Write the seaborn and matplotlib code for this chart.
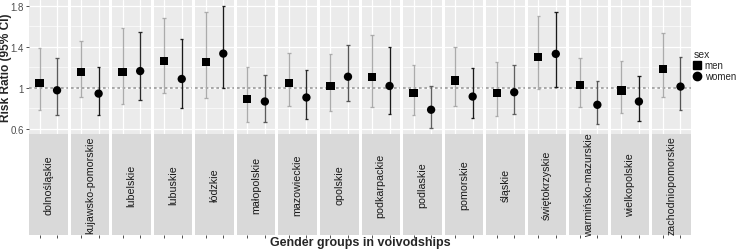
"""
Faceted risk ratios (95% CI) by sex for each Polish voivodship.
"""

import matplotlib.pyplot as plt
import pandas as pd
import seaborn as sns
from matplotlib.lines import Line2D

VOIVODSHIPS: list[str] = [
    "dolnośląskie", "kujawsko-pomorskie", "lubelskie", "lubuskie",
    "łódzkie", "małopolskie", "mazowieckie", "opolskie",
    "podkarpackie", "podlaskie", "pomorskie", "śląskie",
    "świętokrzyskie", "warmińsko-mazurskie", "wielkopolskie",
    "zachodniopomorskie",
]

MEN_RR = [1.045, 1.154, 1.154, 1.260, 1.251, 0.894, 1.051, 1.019,
          1.109, 0.949, 1.071, 0.949, 1.299, 1.026, 0.974, 1.183]
MEN_LO = [0.788, 0.913, 0.839, 0.949, 0.904, 0.669, 0.823, 0.778,
          0.817, 0.736, 0.823, 0.723, 0.990, 0.814, 0.756, 0.916]
MEN_HI = [1.389, 1.453, 1.582, 1.678, 1.736, 1.199, 1.344, 1.334,
          1.511, 1.225, 1.399, 1.254, 1.704, 1.293, 1.257, 1.534]

WOMEN_RR = [0.977, 0.945, 1.164, 1.087, 1.334, 0.868, 0.907, 1.109,
            1.019, 0.788, 0.916, 0.958, 1.331, 0.836, 0.868, 1.013]
WOMEN_LO = [0.740, 0.740, 0.881, 0.807, 0.997, 0.669, 0.700, 0.871,
            0.746, 0.611, 0.704, 0.749, 1.013, 0.653, 0.675, 0.788]
WOMEN_HI = [1.289, 1.206, 1.543, 1.473, 1.794, 1.129, 1.177, 1.415,
            1.399, 1.016, 1.196, 1.225, 1.740, 1.064, 1.119, 1.305]

SEX_LEVELS = ["men", "women"]

# error bar shades as they appear in the picture
MEN_SHADE = "#ababab"
WOMEN_SHADES = ["#5a5a5a", "#1a1a1a", "#2a2a2a", "#1a1a1a", "#1a1a1a",
                "#5a5a5a", "#2a2a2a", "#555555", "#1a1a1a", "#5f5f5f",
                "#1a1a1a", "#5f5f5f", "#1a1a1a", "#555555", "#1a1a1a",
                "#555555"]

FIG_W, FIG_H = 742, 251
PANEL_LEFT, PANEL_RIGHT = 29, 691
PANEL_GAP = 3
PANEL_TOP, PANEL_BOTTOM = 1, 135
STRIP_BOTTOM = 236
Y_LIMITS = (0.552, 1.855)


def build_frame() -> pd.DataFrame:
    rows = []
    for i, name in enumerate(VOIVODSHIPS):
        rows.append((name, "men", MEN_RR[i], MEN_LO[i], MEN_HI[i], MEN_SHADE))
        rows.append((name, "women", WOMEN_RR[i], WOMEN_LO[i], WOMEN_HI[i],
                     WOMEN_SHADES[i]))
    df = pd.DataFrame(rows, columns=["voivodship", "sex", "rr", "lo", "hi", "shade"])
    df["pos"] = df["sex"].map({s: k + 1 for k, s in enumerate(SEX_LEVELS)})
    return df


def create_chart() -> None:
    sns.set_style("white")
    plt.rcParams["font.family"] = ["Liberation Sans", "DejaVu Sans"]

    df = build_frame()
    fig = plt.figure(figsize=(FIG_W / 100, FIG_H / 100), dpi=100)

    n = len(VOIVODSHIPS)
    pw = (PANEL_RIGHT - PANEL_LEFT - PANEL_GAP * (n - 1)) / n

    for i, name in enumerate(VOIVODSHIPS):
        x0 = PANEL_LEFT + i * (pw + PANEL_GAP)
        ax = fig.add_axes([x0 / FIG_W, 1 - PANEL_BOTTOM / FIG_H,
                           pw / FIG_W, (PANEL_BOTTOM - PANEL_TOP) / FIG_H])
        ax.set_facecolor("#ebebeb")
        for v in (0.8, 1.2, 1.6):
            ax.axhline(v, color="white", lw=0.45, zorder=0)
        for v in (0.6, 1.0, 1.4, 1.8):
            ax.axhline(v, color="white", lw=0.9, zorder=0)
        for v in (1, 2):
            ax.axvline(v, color="white", lw=0.9, zorder=0)
        ax.axhline(1.0, color="#9a9a9a", lw=1.2, ls=(0, (1.6, 1.6)), zorder=1)

        sub = df[df["voivodship"] == name]
        for _, r in sub.iterrows():
            ax.vlines(r["pos"], r["lo"], r["hi"], color=r["shade"], lw=0.95, zorder=2)
            ax.hlines([r["lo"], r["hi"]], r["pos"] - 0.1, r["pos"] + 0.1,
                      color=r["shade"], lw=0.95, zorder=2)
        sns.scatterplot(data=sub, x="pos", y="rr", style="sex",
                        markers={"men": "s", "women": "o"},
                        style_order=SEX_LEVELS, color="black", s=36,
                        edgecolor="black", linewidth=0, legend=False,
                        ax=ax, zorder=3)

        ax.set_xlim(0.4, 2.6)
        ax.set_ylim(*Y_LIMITS)
        ax.set_xlabel("")
        ax.set_ylabel("")
        ax.set_xticks([])
        for sp in ax.spines.values():
            sp.set_visible(False)
        ax.set_yticks([0.6, 1.0, 1.4, 1.8])
        if i == 0:
            ax.set_yticklabels(["0.6", "1", "1.4", "1.8"], fontsize=7,
                               color="#4d4d4d")
            ax.tick_params(axis="y", length=2.5, width=0.6, color="#333333",
                           pad=1.2, left=True)
        else:
            ax.tick_params(axis="y", length=0, labelleft=False)

        # facet strip below the panel
        sax = fig.add_axes([x0 / FIG_W, 1 - STRIP_BOTTOM / FIG_H,
                            pw / FIG_W, (STRIP_BOTTOM - PANEL_BOTTOM) / FIG_H])
        sax.set_facecolor("#d9d9d9")
        sax.set_xlim(0.4, 2.6)
        sax.set_ylim(0, 1)
        sax.set_yticks([])
        sax.set_xticks([1, 2])
        sax.set_xticklabels([])
        sax.tick_params(axis="x", length=2.5, width=0.6, color="#333333",
                        bottom=True)
        for sp in sax.spines.values():
            sp.set_visible(False)
        sax.text(1.5, 0.5, name, rotation=90, ha="center", va="center",
                 fontsize=7.7, color="#1a1a1a")

    fig.text(5.8 / FIG_W, 1 - (PANEL_TOP + PANEL_BOTTOM) / 2 / FIG_H,
             "Risk Ratio (95% CI)", rotation=90, ha="center", va="center",
             fontsize=8.6, fontweight="bold")
    fig.text((PANEL_LEFT + PANEL_RIGHT) / 2 / FIG_W, 1 - 243 / FIG_H,
             "Gender groups in voivodships", ha="center", va="center",
             fontsize=9, fontweight="bold")

    handles = [
        Line2D([], [], marker="s", color="black", ls="", markersize=5.5),
        Line2D([], [], marker="o", color="black", ls="", markersize=6),
    ]
    fig.legend(handles, SEX_LEVELS, title="sex", loc="upper left",
               bbox_to_anchor=(694 / FIG_W, 1 - 50 / FIG_H), frameon=False,
               fontsize=7, title_fontsize=7.5, handlelength=0.6,
               handletextpad=0.5, labelspacing=0.1, borderpad=0,
               borderaxespad=0, alignment="left")

    fig.savefig("out.png", dpi=100)


if __name__ == "__main__":
    create_chart()
